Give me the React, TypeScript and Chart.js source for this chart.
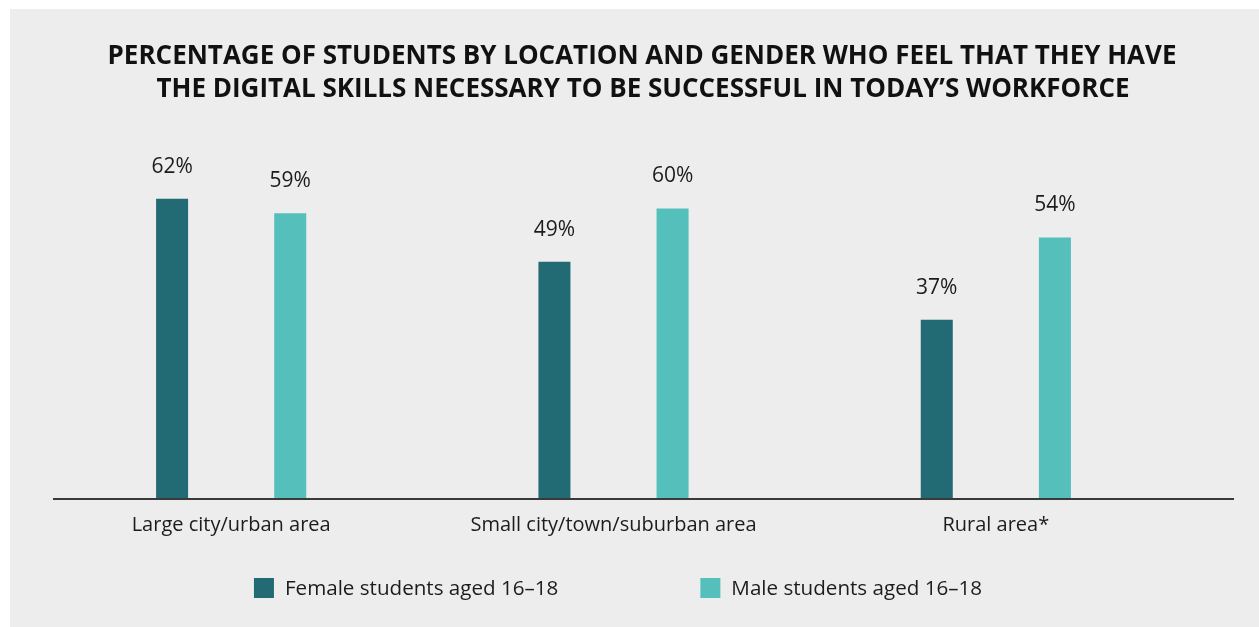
import React, { useEffect, useRef } from 'react';
import { Chart, registerables } from 'chart.js';

Chart.register(...registerables);

const TITLE_LINES = [
  'PERCENTAGE OF STUDENTS BY LOCATION AND GENDER WHO FEEL THAT THEY HAVE',
  'THE DIGITAL SKILLS NECESSARY TO BE SUCCESSFUL IN TODAY’S WORKFORCE',
];
const CATEGORIES = ['Large city/urban area', 'Small city/town/suburban area', 'Rural area*'];
const FEMALE_VALUES = [62, 49, 37];
const MALE_VALUES = [59, 60, 54];
const SERIES_LABELS = ['Female students aged 16–18', 'Male students aged 16–18'];
const SERIES_COLORS = ['#226a74', '#55bfbb'];

const FONT = '"Open Sans", "Noto Sans", sans-serif';
const TEXT = '#1c1c1c';

const decorPlugin = {
  id: 'decor',
  afterDatasetsDraw(chart: any) {
    const ctx = chart.ctx as CanvasRenderingContext2D;
    const area = chart.chartArea;
    ctx.save();
    // title
    ctx.fillStyle = '#111111';
    ctx.font = `bold 26px ${FONT}`;
    ctx.textAlign = 'center';
    ctx.textBaseline = 'alphabetic';
    ctx.fillText(TITLE_LINES[0], 632, 55);
    ctx.fillText(TITLE_LINES[1], 633, 88);

    // axis line
    ctx.strokeStyle = '#3a3a3a';
    ctx.lineWidth = 2;
    ctx.beginPath();
    ctx.moveTo(43, area.bottom);
    ctx.lineTo(1224, area.bottom);
    ctx.stroke();

    // data labels
    ctx.fillStyle = TEXT;
    ctx.font = `21px ${FONT}`;
    chart.data.datasets.forEach((ds: any, di: number) => {
      const meta = chart.getDatasetMeta(di);
      meta.data.forEach((bar: any, i: number) => {
        ctx.fillText(`${ds.data[i]}%`, bar.x, bar.y - 26);
      });
    });

    // legend
    ctx.font = `20.6px ${FONT}`;
    ctx.textAlign = 'left';
    ctx.textBaseline = 'middle';
    const box = 20;
    const boxGap = 11;
    const itemGap = 142;
    const widths = chart.data.datasets.map((ds: any) => box + boxGap + ctx.measureText(ds.label).width);
    const total = widths.reduce((a: number, b: number) => a + b, 0) + itemGap * (widths.length - 1);
    let x = 608 - total / 2;
    const cy = 579;
    chart.data.datasets.forEach((ds: any, di: number) => {
      ctx.fillStyle = ds.backgroundColor;
      ctx.fillRect(x, cy - box / 2, box, box);
      ctx.fillStyle = TEXT;
      ctx.fillText(ds.label, x + box + boxGap, cy + 1);
      x += widths[di] + itemGap;
    });
    ctx.restore();
  },
};

export default function App() {
  const ref = useRef<HTMLCanvasElement>(null);
  useEffect(() => {
    document.body.style.margin = '0';
    const chart = new Chart(ref.current!, {
      type: 'bar',
      data: {
        labels: CATEGORIES,
        datasets: [
          { label: SERIES_LABELS[0], data: FEMALE_VALUES, backgroundColor: SERIES_COLORS[0] },
          { label: SERIES_LABELS[1], data: MALE_VALUES, backgroundColor: SERIES_COLORS[1] },
        ],
      },
      options: {
        responsive: false,
        animation: false,
        layout: { padding: { left: 30, right: 72, top: 151, bottom: 76 } },
        datasets: { bar: { categoryPercentage: 0.618, barPercentage: 0.271 } },
        plugins: { legend: { display: false }, title: { display: false }, tooltip: { enabled: false } },
        scales: {
          x: {
            grid: { display: false, drawTicks: false },
            border: { display: false },
            ticks: { color: TEXT, font: { family: FONT, size: 20 }, padding: 14 },
          },
          y: {
            display: false,
            min: 0,
            max: 70,
          },
        },
      },
      plugins: [decorPlugin],
    });
    return () => chart.destroy();
  }, []);
  return (
    <div style={{ position: 'absolute', left: 10, top: 9, width: 1249, height: 618, background: '#ededed' }}>
      <canvas ref={ref} width={1249} height={618} style={{ display: 'block' }} />
    </div>
  );
}
